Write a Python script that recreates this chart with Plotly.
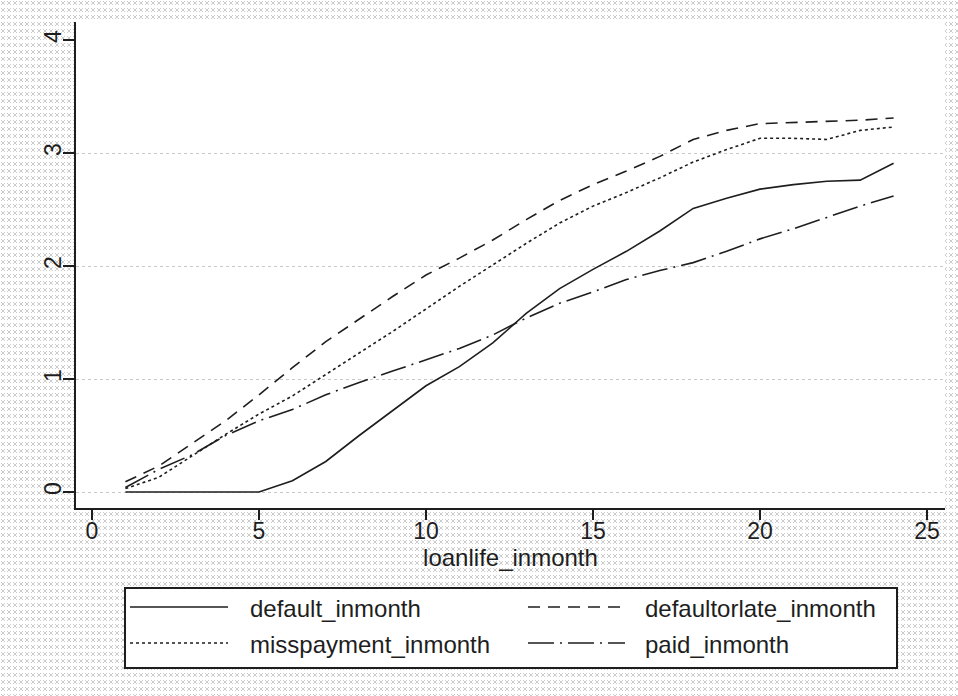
import base64
import plotly.graph_objects as go

# loan life in months and the four cumulative rates
months = list(range(1, 25))
default_inmonth = [0, 0, 0, 0, 0, 0.1, 0.27, 0.5, 0.72, 0.94, 1.11, 1.32,
                   1.58, 1.8, 1.97, 2.13, 2.31, 2.51, 2.6, 2.68, 2.72, 2.75, 2.76, 2.91]
defaultorlate_inmonth = [0.09, 0.23, 0.43, 0.63, 0.86, 1.1, 1.33, 1.53, 1.73, 1.92, 2.07, 2.23,
                         2.41, 2.58, 2.72, 2.84, 2.97, 3.12, 3.2, 3.26, 3.27, 3.28, 3.29, 3.31]
misspayment_inmonth = [0.03, 0.13, 0.32, 0.51, 0.69, 0.85, 1.04, 1.23, 1.42, 1.62, 1.82, 2.01,
                       2.2, 2.38, 2.53, 2.65, 2.78, 2.92, 3.03, 3.13, 3.13, 3.12, 3.2, 3.23]
paid_inmonth = [0.04, 0.2, 0.33, 0.5, 0.63, 0.73, 0.86, 0.97, 1.07, 1.17, 1.27, 1.39,
                1.54, 1.67, 1.77, 1.88, 1.96, 2.03, 2.13, 2.24, 2.33, 2.43, 2.53, 2.62]

series_names = ['default_inmonth', 'defaultorlate_inmonth', 'misspayment_inmonth', 'paid_inmonth']
x_ticks = [0, 5, 10, 15, 20, 25]
y_ticks = [0, 1, 2, 3, 4]
grid_vals = [0, 1, 2, 3]

dashes = {
    'default_inmonth': 'solid',
    'defaultorlate_inmonth': '12px,8px',
    'misspayment_inmonth': '3px,3px',
    'paid_inmonth': '26px,6px,2px,6px',
}
INK = '#1e1e1e'
FONT = 'Liberation Sans, Arial, sans-serif'

# page geometry (pixels)
W_FIG, H_FIG = 958, 696
L, R, T, B = 76, 13, 22, 188
PW, PH = W_FIG - L - R, H_FIG - T - B


def px(x):
    return (x - L) / PW


def py(y):
    return (H_FIG - B - y) / PH


# crosshatch background like the Stata scheme
svg = (
    f'<svg xmlns="http://www.w3.org/2000/svg" width="{W_FIG}" height="{H_FIG}">'
    '<defs><pattern id="p" width="6" height="7" patternUnits="userSpaceOnUse">'
    '<path d="M1,1 L5,5 M5,1 L1,5" stroke="#cccccc" stroke-width="1" fill="none"/>'
    '</pattern></defs>'
    '<rect width="100%" height="100%" fill="#ffffff"/>'
    '<rect width="100%" height="100%" fill="url(#p)"/></svg>'
)
bg_src = 'data:image/svg+xml;base64,' + base64.b64encode(svg.encode()).decode()

fig = go.Figure()

data = {
    'default_inmonth': default_inmonth,
    'defaultorlate_inmonth': defaultorlate_inmonth,
    'misspayment_inmonth': misspayment_inmonth,
    'paid_inmonth': paid_inmonth,
}
for i, name in enumerate(series_names):
    fig.add_trace(go.Scatter(
        x=months, y=data[name], mode='lines', name=name,
        line=dict(color=INK, width=1.6, dash=dashes[name]),
        yaxis='y2' if i == 0 else 'y',
        showlegend=False,
    ))

y_range = [-16 / 113, 470 / 113]

fig.update_layout(
    width=W_FIG, height=H_FIG,
    margin=dict(l=L, r=R, t=T, b=B, autoexpand=False),
    paper_bgcolor='white',
    plot_bgcolor='white',
    font=dict(family=FONT, size=23, color=INK),
    xaxis=dict(
        range=[-16 / 33.4, 853 / 33.4],
        tickvals=x_ticks,
        ticks='outside', ticklen=10, tickwidth=1.5, tickcolor=INK,
        tickfont=dict(size=23),
        ticklabelstandoff=-9,
        showline=True, linewidth=2, linecolor=INK,
        showgrid=False, zeroline=False,
        title=dict(text='loanlife_inmonth', standoff=0, font=dict(size=24)),
    ),
    yaxis=dict(
        range=y_range,
        tickvals=y_ticks,
        tickangle=-90,
        ticks='outside', ticklen=11, tickwidth=1.5, tickcolor=INK,
        tickfont=dict(size=23),
        showline=True, linewidth=2, linecolor=INK,
        showgrid=False, zeroline=False,
        ticklabelstandoff=-7,
    ),
    yaxis2=dict(
        range=y_range, overlaying='y',
        tickvals=grid_vals, showticklabels=False, ticks='',
        showgrid=True, gridcolor='#c8c8c8', gridwidth=1, griddash='dot',
        showline=False, zeroline=False,
    ),
    images=[dict(
        source=bg_src, xref='paper', yref='paper',
        x=-L / PW, y=1 + T / PH, sizex=W_FIG / PW, sizey=H_FIG / PH,
        xanchor='left', yanchor='top', sizing='stretch', layer='below',
    )],
)

# white plot region on top of the hatch
shapes = [dict(type='rect', xref='paper', yref='paper', x0=0, x1=1, y0=0, y1=1,
               fillcolor='white', line=dict(width=0), layer='below')]

# hand-drawn legend box (Stata style, long key lines)
shapes.append(dict(type='rect', xref='paper', yref='paper',
                   x0=px(125), x1=px(897), y0=py(588), y1=py(668),
                   fillcolor='white', line=dict(color=INK, width=2)))
key_pos = [(130, 228, 250, 607), (528, 625, 645, 607),
           (130, 228, 250, 643), (528, 625, 645, 643)]
legend_order = ['default_inmonth', 'defaultorlate_inmonth', 'misspayment_inmonth', 'paid_inmonth']
annotations = []
for name, (kx0, kx1, tx, ky) in zip(legend_order, key_pos):
    shapes.append(dict(type='line', xref='paper', yref='paper',
                       x0=px(kx0), x1=px(kx1), y0=py(ky), y1=py(ky),
                       line=dict(color=INK, width=1.6, dash=dashes[name])))
    annotations.append(dict(xref='paper', yref='paper', x=px(tx - 2), y=py(ky + 1),
                            text=name, showarrow=False, xanchor='left', yanchor='middle',
                            font=dict(family=FONT, size=24, color=INK)))

fig.update_layout(shapes=shapes, annotations=annotations)

# drop the default page margin so the figure sits at the window corner
fig.write_html('out.html', config={'displayModeBar': False},
               post_script="document.body.style.margin='0px';")
